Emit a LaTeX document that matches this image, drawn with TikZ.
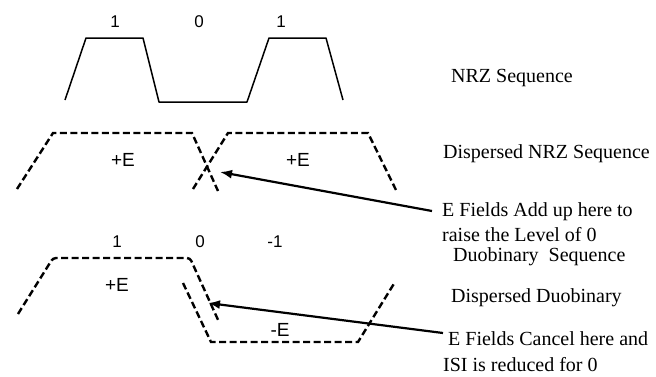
\documentclass[tikz,border=0pt]{standalone}
\usepackage{fontspec}
\setmainfont{Liberation Serif}
\newfontfamily\labfont{Liberation Sans}
\usetikzlibrary{arrows.meta}
\begin{document}
\begin{tikzpicture}[x=1bp,y=-1bp,
  wave/.style={draw=black,line width=1.5bp,line join=round},
  dwave/.style={draw=black,line width=2.4bp,dash pattern=on 7bp off 3.5bp},
  arr/.style={draw=black,line width=2.2bp,-{Latex[length=12bp,width=9bp]}},
  digit/.style={font=\labfont\fontsize{17bp}{18bp}\selectfont,inner sep=0pt},
  elab/.style={font=\labfont\fontsize{19bp}{20bp}\selectfont,inner sep=0pt},
  rtext/.style={font=\fontsize{20bp}{22bp}\selectfont,anchor=west,inner sep=0pt,text height=14bp,text depth=4bp}]
\useasboundingbox (0,0) rectangle (656,376);
\fill[white] (0,0) rectangle (656,376);

% NRZ sequence
\draw[wave] (65,100) -- (86,38) -- (143,38) -- (159,102) -- (247,102) -- (269,38) -- (326,38) -- (343,100);
\node[digit] (n1) at (115,22) {1};
\node[digit] (n0) at (199,22) {0};
\node[digit] (n1b) at (281,22) {1};

% Dispersed NRZ
\draw[dwave] (17,189) -- (53,133) -- (192,133) -- (218,191);
\draw[dwave] (193,189) -- (228,133) -- (368,133) -- (396,190);
\node[elab] (e1) at (123,160) {+E};
\node[elab] (e2) at (298,160) {+E};

% Duobinary labels
\node[digit] (d1) at (117,242) {1};
\node[digit] (d0) at (200,242) {0};
\node[digit] (dm1) at (275,242) {-1};

% Dispersed duobinary
\draw[dwave,rounded corners=3bp] (18,314) -- (53,258) -- (190,258) -- (219,322);
\draw[dwave] (183,283) -- (211,342) -- (358,342) -- (395,282);
\node[elab] (e3) at (117,285) {+E};
\node[elab] (e4) at (280,330) {-E};

% right texts
\node[rtext] (nrz) at (451,77) {NRZ Sequence};
\node[rtext] (dnrz) at (443,153) {Dispersed NRZ Sequence};
\node[rtext] (add) at (442,211) {E Fields Add up here to};
\node[rtext] (raise) at (442,236) {raise the Level of 0};
\node[rtext] (duo) at (453,256) {Duobinary\ \ Sequence};
\node[rtext] (dduo) at (451,297) {Dispersed Duobinary};
\node[rtext] (cancel) at (448,340) {E Fields Cancel here and};
\node[rtext] (isi) at (443,366) {ISI is reduced for 0};

% arrows
\coordinate (tip1) at (220,172);
\coordinate (tip2) at (208,303);
\draw[arr] ([xshift=-10bp]add.west) -- (tip1);
\draw[arr] ([xshift=-5bp,yshift=7bp]cancel.west) -- (tip2);
\end{tikzpicture}
\end{document}
